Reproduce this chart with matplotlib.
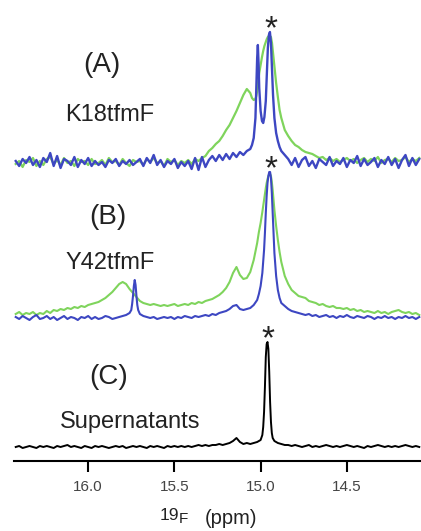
"""19F NMR spectra of K18tfmF / Y42tfmF samples and supernatant, stacked."""

import matplotlib
matplotlib.use("Agg")
import matplotlib.pyplot as plt  # noqa: E402

# --------------------------------------------------------------------------- data
# sampling grid (ppm) for the flat stretches, 16.42 -> 14.08 in 0.02 steps
PPM_GRID = [16.42, 16.40, 16.38, 16.36, 16.34, 16.32, 16.30, 16.28, 16.26, 16.24,
            16.22, 16.20, 16.18, 16.16, 16.14, 16.12, 16.10, 16.08, 16.06, 16.04,
            16.02, 16.00, 15.98, 15.96, 15.94, 15.92, 15.90, 15.88, 15.86, 15.84,
            15.82, 15.80, 15.78, 15.76, 15.74, 15.72, 15.70, 15.68, 15.66, 15.64,
            15.62, 15.60, 15.58, 15.56, 15.54, 15.52, 15.50, 15.48, 15.46, 15.44,
            15.42, 15.40, 15.38, 15.36, 15.34, 15.32, 15.30, 15.28, 15.26, 15.24,
            15.22, 15.20, 15.18, 15.16, 15.14, 15.12, 15.10, 15.08, 15.06, 15.04,
            15.02, 15.00, 14.98, 14.96, 14.94, 14.92, 14.90, 14.88, 14.86, 14.84,
            14.82, 14.80, 14.78, 14.76, 14.74, 14.72, 14.70, 14.68, 14.66, 14.64,
            14.62, 14.60, 14.58, 14.56, 14.54, 14.52, 14.50, 14.48, 14.46, 14.44,
            14.42, 14.40, 14.38, 14.36, 14.34, 14.32, 14.30, 14.28, 14.26, 14.24,
            14.22, 14.20, 14.18, 14.16, 14.14, 14.12, 14.10, 14.08]

# (A) K18tfmF -- dense points through the peak cluster
A_PEAK_PPM = [15.06, 15.05, 15.04, 15.03, 15.025, 15.02, 15.016, 15.012, 15.008, 15.0,
              14.992, 14.985, 14.978, 14.97, 14.964, 14.958, 14.952, 14.946, 14.940,
              14.934, 14.928, 14.92, 14.91, 14.90, 14.89, 14.88]
A_PPM = PPM_GRID[0:68] + A_PEAK_PPM + PPM_GRID[78:]
A_BLUE = [2, -3, 4, 0, 6, -2, 3, -4, 5, 1,
          10, -3, 7, -5, 4, 2, -2, 6, -4, 3,
          -1, 5, -3, 2, -2, 1, -4, 3, 0, 4,
          -3, 2, -1, 3, -2, 1, 4, -3, 5, 0,
          8, -2, 3, -4, 2, -1, 4, -5, 1, -3,
          2, -6, 5, -7, 6, -4, 3, 7, 2, 8,
          3, 9, 4, 10, 6, 11, 8, 12,
          14, 18, 25, 45, 75, 105, 118, 100, 75, 52, 42, 40, 46, 62, 88, 115,
          128, 131, 120, 95, 68, 45, 30, 22, 16, 12,
          8, 4, -2, 5, -4, 3, 6, -3, 2, -5,
          4, 1, -2, 6, -3, 2, -1, 5, -4, 3,
          0, 7, -3, 4, -2, 1, 5, -4, 3, -1,
          6, -2, 4, -5, 3, 8, -3, 5, -2, 4]
A_GREEN = [-1, 2, -4, 3, 1, 5, -3, 2, -2, 4,
           6, -1, 3, -2, 5, 0, 2, -3, 4, 1,
           2, -2, 4, -1, 0, 3, -2, 5, 1, 2,
           -2, 4, 0, -3, 3, 1, 2, -2, 4, 1,
           5, 0, 2, -3, 4, 1, 3, -2, 2, 0,
           3, -1, 4, 2, 5, 7, 12, 15, 19, 22,
           27, 33, 38, 45, 52, 60, 68, 74,
           70, 65, 63, 64, 67, 72, 78, 84, 90, 98, 106, 112, 117, 121, 124, 126,
           127, 127, 126, 120, 110, 96, 80, 66, 53, 45,
           33, 27, 22, 18, 16, 13, 11, 10, 9, 7,
           5, 6, 3, 5, 2, 4, 1, 3, 5, 2,
           4, 0, 3, 5, 1, 4, 2, 6, 0, 3,
           4, 1, 5, 2, 3, 6, 1, 4, 2, 5]

# (B) Y42tfmF
B_NARROW_PPM = [15.75, 15.745, 15.74, 15.735, 15.73, 15.725, 15.72, 15.715, 15.71, 15.70]
B_PEAK_PPM = [15.01, 15.0, 14.99, 14.98, 14.975, 14.97, 14.965, 14.96, 14.955, 14.95,
              14.945, 14.94, 14.935, 14.93, 14.925, 14.92, 14.91, 14.90, 14.89]
B_PPM = (PPM_GRID[0:34] + B_NARROW_PPM + PPM_GRID[37:71] + B_PEAK_PPM
         + PPM_GRID[77:])
B_BLUE = [1, -1, 2, 0, -2, 1, 3, -1, 0, 2,
          -1, 1, -2, 0, 2, -1, 1, 0, -2, 1,
          0, 2, -1, 1, -1, 0, 2, 1, -1, 0,
          1, 2, 3, 5,
          8, 14, 22, 32, 38, 33, 22, 13, 8, 4,
          2, 1, 0, 1, -1, 0, 1, 0, 1, -1,
          1, 0, 2, 1, 0, 2, 1, 2, 3, 2,
          4, 3, 5, 6, 7, 9, 12, 13, 9, 8,
          9, 10, 13, 18,
          24, 32, 45, 68, 85, 105, 122, 135, 142, 146,
          146, 140, 125, 105, 85, 65, 42, 28, 20,
          15, 12, 9, 7, 6, 5, 4, 3, 4, 2,
          3, 1, 2, 3, 1, 2, 0, 2, 1, 3,
          1, 0, 2, 1, 0, 2, 1, -1, 1, 0,
          2, 0, 1, -1, 1, 0, 2, 0, 1, -1, 1]
B_GREEN = [4, 6, 3, 5, 4, 6, 3, 5, 4, 7,
           5, 8, 7, 9, 8, 10, 9, 11, 10, 12,
           11, 13, 14, 15, 16, 18, 20, 23, 26, 30,
           34, 36, 34, 29,
           27, 26, 25, 24, 23, 22, 21, 20, 19, 17,
           15, 14, 13, 14, 13, 12, 13, 12, 13, 14,
           12, 13, 14, 13, 15, 14, 16, 15, 17, 18,
           19, 21, 23, 26, 30, 36, 45, 51, 43, 39,
           40, 46, 58, 75,
           86, 95, 106, 118, 124, 130, 135, 139, 142, 144,
           144, 142, 136, 128, 118, 108, 92, 78, 66,
           56, 42, 34, 28, 25, 22, 21, 20, 17, 16,
           15, 13, 14, 12, 11, 12, 10, 10, 9, 10,
           8, 9, 7, 8, 6, 7, 6, 5, 7, 5,
           6, 4, 6, 7, 8, 6, 5, 6, 4, 5, 3]

# (C) supernatants
C_PEAK_PPM = [14.99, 14.985, 14.98, 14.975, 14.97, 14.965, 14.96, 14.955, 14.95,
              14.945, 14.94, 14.935, 14.93]
C_PPM = PPM_GRID[0:72] + C_PEAK_PPM + PPM_GRID[75:]
C_BLACK = [0, 1, -1, 0, 1, 0, -1, 1, 0, 1,
           0, -1, 1, 0, 1, 2, 0, 1, 0, -1,
           1, 0, -1, 1, 0, 1, 0, -1, 0, 1,
           0, 1, -1, 0, 1, 0, 1, 0, -1, 1,
           0, 1, 0, -1, 1, 0, 1, 0, 1, 0,
           1, 0, 1, 2, 1, 2, 1, 2, 2, 3,
           2, 3, 4, 6, 9, 5, 3, 4, 3, 4,
           5, 7,
           12, 20, 35, 60, 90, 103, 105, 98, 75, 45, 25, 14, 9,
           6, 4, 3, 2, 2, 1, 2, 1, 0, 1,
           2, 0, 1, 0, 1, 2, 1, 0, 1, 0,
           1, 2, 1, 0, 1, 0, -1, 1, 0, 1,
           2, 1, 0, 1, 0, 1, 0, 1, 2, 1,
           0, 1, 0]

TICKS = [16.0, 15.5, 15.0, 14.5]
TICK_LABELS = ["16.0", "15.5", "15.0", "14.5"]

# --------------------------------------------------------------------------- figure
W, H = 421, 531
BLUE = "#3d47c2"
GREEN = "#7fd45c"
INK = "#222"
OFFSET = {"A": 298, "B": 143, "C": 14}   # vertical stacking of the three spectra

plt.rcParams["font.family"] = ["Liberation Sans", "DejaVu Sans"]

fig = plt.figure(figsize=(W / 100, H / 100), dpi=100)
ax = fig.add_axes([14 / W, 70 / H, 1 - 14 / W, 1 - 70 / H])


def shifted(vals, key):
    return [v + OFFSET[key] for v in vals]


ax.plot(A_PPM, shifted(A_GREEN, "A"), color=GREEN, lw=1.6)
ax.plot(A_PPM, shifted(A_BLUE, "A"), color=BLUE, lw=1.7)
ax.plot(B_PPM, shifted(B_GREEN, "B"), color=GREEN, lw=1.5)
ax.plot(B_PPM, shifted(B_BLUE, "B"), color=BLUE, lw=1.5)
ax.plot(C_PPM, shifted(C_BLACK, "C"), color="black", lw=1.4)

# asterisks over the main resonance (baseline a little below the peak top:
# the glyph sits high in its em box)
for ppm, top in ((14.94, max(A_BLUE) + OFFSET["A"]),
                 (14.94, max(B_BLUE) + OFFSET["B"]),
                 (14.955, max(C_BLACK) + OFFSET["C"])):
    ax.text(ppm, top - 6, "*", ha="center", va="baseline", fontsize=24, color=INK)

ax.set_xlim(16.43, 14.07)
ax.set_ylim(0, 461)
for side in ("top", "right", "left"):
    ax.spines[side].set_visible(False)
ax.spines["bottom"].set_linewidth(1.5)
ax.set_yticks([])
ax.set_xticks(TICKS, TICK_LABELS)
ax.tick_params(axis="x", direction="out", length=8, width=1.5, pad=6,
               labelsize=11, labelcolor="#444")


def label(x, y, s, size):
    # panel labels placed in figure pixels
    fig.text(x / W, 1 - y / H, s, ha="center", va="center", fontsize=size, color=INK)


label(102, 65, "(A)", 20)
label(110, 115, "K18tfmF", 17)
label(108, 217, "(B)", 20)
label(110, 263, "Y42tfmF", 17)
label(109, 377, "(C)", 20)
label(130, 422, "Supernatants", 17)

# x label: superscript-style "19", then "F", then "(ppm)"
fig.text(160 / W, 1 - 520 / H, "19", ha="left", va="baseline", fontsize=12.5, color=INK)
fig.text(179 / W, 1 - 523 / H, "F", ha="left", va="baseline", fontsize=11, color=INK)
fig.text(205 / W, 1 - 524 / H, "(ppm)", ha="left", va="baseline", fontsize=14.5, color=INK)

fig.savefig("out.png", dpi=100, facecolor="white")
